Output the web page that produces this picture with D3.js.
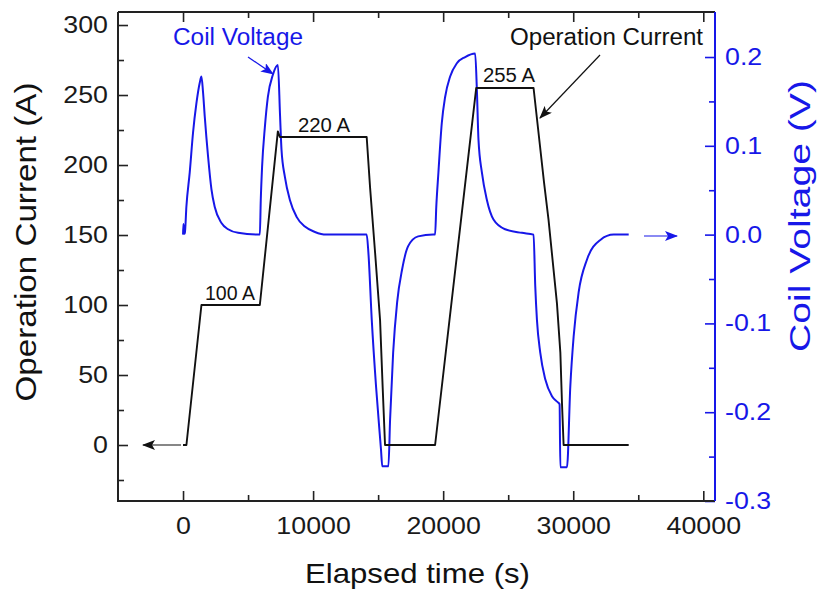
<!DOCTYPE html>
<html>
<head>
<meta charset="utf-8">
<script src="https://cdn.jsdelivr.net/npm/d3@7"></script>
<style>
  body { margin: 0; background: #fff; }
  text { font-family: "Liberation Sans", Arial, sans-serif; }
</style>
</head>
<body>
<svg id="chart" width="825" height="598"></svg>
<script>
// Values
// operation current: time (s) and current (A)
var currentTime = [0, 260, 1415, 5905, 7290, 7446, 14120, 14380, 14770, 15150, 15350, 15530,
  19380, 22540, 26950, 27750, 28100, 28750, 29010, 29135, 29260, 34265];
var currentAmp = [0, 0, 100, 100, 224, 220, 220, 184, 137, 89, 41, 0,
  0, 255, 255, 188, 161, 101, 66, 30, 0, 0];

// coil voltage: time (s) and voltage (V)
var voltageTime = [0, 30, 90, 140, 260, 515, 770, 1030, 1285, 1415,
  1540, 1670, 1925, 2185, 2440, 2955, 3465, 4235, 5905,
  5977, 6077, 6292, 6523, 6908, 7292,
  7462, 7569, 7831, 8215, 8730, 9370, 10140, 11000, 14120,
  14250, 14510, 14840, 15220, 15320, 15790,
  15920, 16154, 16462, 16846, 17308, 18077, 19231, 19380,
  19470, 19635, 19897, 20151, 20536, 21052, 21691, 22461,
  22592, 22715, 22977, 23362, 23870, 24770, 26055, 26950,
  27080, 27210, 27465, 27850, 28365, 28830, 28950, 29010, 29520,
  29775, 30030, 30415, 31060, 32085, 33110, 34265];
var voltageVolt = [0, 0.012, 0.001, 0.002, 0.032, 0.070, 0.115, 0.148, 0.171, 0.178,
  0.160, 0.133, 0.088, 0.051, 0.031, 0.013, 0.006, 0.002, 0.0,
  0.039, 0.076, 0.121, 0.155, 0.180, 0.191,
  0.133, 0.096, 0.065, 0.039, 0.020, 0.009, 0.003, 0.0, 0.0,
  -0.020, -0.096, -0.171, -0.242, -0.261, -0.261,
  -0.208, -0.133, -0.076, -0.039, -0.013, -0.002, 0.0, 0.0,
  0.031, 0.070, 0.126, 0.155, 0.178, 0.193, 0.200, 0.204,
  0.163, 0.107, 0.070, 0.039, 0.017, 0.006, 0.002, 0.0,
  -0.058, -0.096, -0.133, -0.163, -0.182, -0.189, -0.191, -0.262, -0.262,
  -0.171, -0.115, -0.065, -0.028, -0.006, 0.0, 0.0];

var xTicks = [0, 10000, 20000, 30000, 40000];
var xMinorTicks = [5000, 15000, 25000, 35000];
var leftTicks = [0, 50, 100, 150, 200, 250, 300];
var leftMinorTicks = [-25, 25, 75, 125, 175, 225, 275];
var rightTicks = [-0.3, -0.2, -0.1, 0.0, 0.1, 0.2];
var rightMinorTicks = [-0.25, -0.15, -0.05, 0.05, 0.15];

var currentData = currentTime.map(function(t, i) { return [t, currentAmp[i]]; });
var voltageData = voltageTime.map(function(t, i) { return [t, voltageVolt[i]]; });

var blue = "#1717e8";
var svg = d3.select("#chart");

var x = d3.scaleLinear().domain([-5000, 40900]).range([118, 715]);
var yI = d3.scaleLinear().domain([-40, 309.3]).range([501, 12]);
var yV = d3.scaleLinear().domain([-0.3, 0.2507]).range([501, 12]);

// stretch text a bit wider, the original font runs wide
function stretch(sel, k) {
  sel.each(function() {
    var w = this.getComputedTextLength();
    d3.select(this).attr("textLength", w * k).attr("lengthAdjust", "spacingAndGlyphs");
  });
}

// axes
var gBottom = svg.append("g").attr("transform", "translate(0,501)")
  .call(d3.axisBottom(x).tickValues(xTicks).tickSize(-10).tickPadding(16).tickFormat(d3.format("d")));
svg.append("g").attr("transform", "translate(0,501)")
  .call(d3.axisBottom(x).tickValues(xMinorTicks).tickSize(-6).tickFormat(""));
svg.append("g").attr("transform", "translate(0,12)")
  .call(d3.axisTop(x).tickValues(xTicks).tickSize(-10).tickFormat(""));
svg.append("g").attr("transform", "translate(0,12)")
  .call(d3.axisTop(x).tickValues(xMinorTicks).tickSize(-6).tickFormat(""));

var gLeft = svg.append("g").attr("transform", "translate(118,0)")
  .call(d3.axisLeft(yI).tickValues(leftTicks).tickSize(-10).tickPadding(10).tickFormat(d3.format("d")));
svg.append("g").attr("transform", "translate(118,0)")
  .call(d3.axisLeft(yI).tickValues(leftMinorTicks).tickSize(-6).tickFormat(""));

var gRight = svg.append("g").attr("transform", "translate(715,0)")
  .call(d3.axisRight(yV).tickValues(rightTicks).tickSize(-10).tickPadding(10)
    .tickFormat(function(d) { return d.toFixed(1); }));
var gRightMinor = svg.append("g").attr("transform", "translate(715,0)")
  .call(d3.axisRight(yV).tickValues(rightMinorTicks).tickSize(-6).tickFormat(""));

svg.selectAll(".domain").remove();
svg.selectAll(".tick line").attr("stroke", "#222").attr("stroke-width", 1.6);
gRight.selectAll(".tick line").attr("stroke", blue);
gRightMinor.selectAll(".tick line").attr("stroke", blue);

[gBottom, gLeft, gRight].forEach(function(g) {
  g.selectAll("text").attr("font-size", 23.5)
    .attr("font-family", "'Liberation Sans', Arial, sans-serif").attr("fill", "#1a1a1a");
  stretch(g.selectAll("text"), 1.14);
});
gRight.selectAll("text").attr("fill", blue);

// frame
svg.append("path").attr("d", "M118,12V501H715").attr("fill", "none")
  .attr("stroke", "#222").attr("stroke-width", 2);
svg.append("path").attr("d", "M118,12H715").attr("fill", "none")
  .attr("stroke", "#222").attr("stroke-width", 2);
svg.append("path").attr("d", "M715,12V501").attr("fill", "none")
  .attr("stroke", blue).attr("stroke-width", 2);

// curves
var lineI = d3.line().x(function(d) { return x(d[0]); }).y(function(d) { return yI(d[1]); });
var lineV = d3.line().x(function(d) { return x(d[0]); }).y(function(d) { return yV(d[1]); })
  .curve(d3.curveMonotoneX);

svg.append("path").datum(voltageData).attr("d", lineV)
  .attr("fill", "none").attr("stroke", blue).attr("stroke-width", 2).attr("stroke-linejoin", "round");
svg.append("path").datum(currentData).attr("d", lineI)
  .attr("fill", "none").attr("stroke", "#111").attr("stroke-width", 1.9).attr("stroke-linejoin", "round");

// arrow heads
var defs = svg.append("defs");
function marker(id, color) {
  defs.append("marker").attr("id", id)
    .attr("markerUnits", "userSpaceOnUse")
    .attr("markerWidth", 14).attr("markerHeight", 10)
    .attr("refX", 12).attr("refY", 5).attr("orient", "auto")
    .append("path").attr("d", "M0,0 L13,5 L0,10 L3,5 Z").attr("fill", color);
}
marker("headBlack", "#111");
marker("headBlue", blue);

function arrow(x1, y1, x2, y2, color, id) {
  svg.append("line")
    .attr("x1", x1).attr("y1", y1).attr("x2", x2).attr("y2", y2)
    .attr("stroke", color).attr("stroke-width", 1.2)
    .attr("marker-end", "url(#" + id + ")");
}
arrow(248, 57, 273, 74, blue, "headBlue");
arrow(600, 55, 540, 118, "#111", "headBlack");
arrow(181, 445, 143, 445, "#111", "headBlack");
arrow(644, 236, 677, 236, blue, "headBlue");

// labels
function label(txt, x0, y0, size, len, color) {
  svg.append("text").attr("x", x0).attr("y", y0)
    .attr("font-size", size).attr("fill", color)
    .attr("textLength", len).attr("lengthAdjust", "spacingAndGlyphs")
    .text(txt);
}
label("Coil Voltage", 173, 45, 23, 130, blue);
label("Operation Current", 510, 45, 23, 193, "#111");
label("100 A", 205, 300, 20, 50, "#111");
label("220 A", 298, 132, 20, 52, "#111");
label("255 A", 483, 82, 20, 52, "#111");

// axis titles
svg.append("text").attr("x", 417.5).attr("y", 583).attr("text-anchor", "middle")
  .attr("font-size", 28).attr("fill", "#111")
  .attr("textLength", 225).attr("lengthAdjust", "spacingAndGlyphs")
  .text("Elapsed time (s)");
svg.append("text").attr("transform", "translate(36,242) rotate(-90)").attr("text-anchor", "middle")
  .attr("font-size", 29).attr("fill", "#111")
  .attr("textLength", 319).attr("lengthAdjust", "spacingAndGlyphs")
  .text("Operation Current (A)");
svg.append("text").attr("transform", "translate(810,216) rotate(-90)").attr("text-anchor", "middle")
  .attr("font-size", 29).attr("fill", blue)
  .attr("textLength", 272).attr("lengthAdjust", "spacingAndGlyphs")
  .text("Coil Voltage (V)");
</script>
</body>
</html>
